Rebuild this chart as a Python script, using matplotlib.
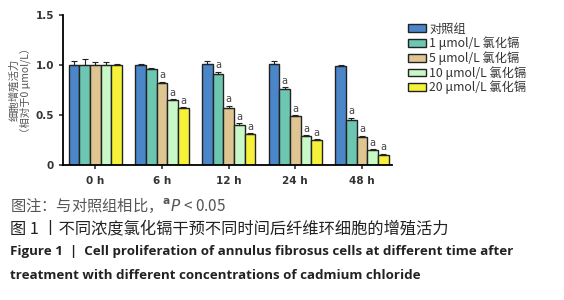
import matplotlib
matplotlib.use("Agg")
import matplotlib.pyplot as plt
import numpy as np

plt.rcParams["font.family"] = ["Noto Sans CJK SC", "DejaVu Sans"]

time_labels = ["0 h", "6 h", "12 h", "24 h", "48 h"]
group_names = ["对照组", "1 μmol/L 氯化镉", "5 μmol/L 氯化镉",
               "10 μmol/L 氯化镉", "20 μmol/L 氯化镉"]
colors = ["#4a86c8", "#6cc6b0", "#dfc592", "#c8f7c8", "#f6f23a"]

# rows: groups, columns: time points
values = [
    [1.00, 1.00, 1.01, 1.01, 0.99],
    [1.00, 0.96, 0.91, 0.76, 0.45],
    [1.00, 0.82, 0.57, 0.49, 0.28],
    [1.00, 0.65, 0.40, 0.29, 0.15],
    [1.00, 0.57, 0.31, 0.25, 0.10],
]
errors = [
    [0.04, 0.01, 0.03, 0.03, 0.01],
    [0.06, 0.01, 0.02, 0.02, 0.02],
    [0.03, 0.01, 0.02, 0.01, 0.01],
    [0.03, 0.01, 0.02, 0.01, 0.01],
    [0.01, 0.01, 0.01, 0.01, 0.01],
]
# significance marks (a: P < 0.05 vs control)
signif = [
    [0, 0, 0, 0, 0],
    [0, 0, 1, 1, 1],
    [0, 1, 1, 1, 1],
    [0, 1, 1, 1, 1],
    [0, 1, 1, 1, 1],
]

fig = plt.figure(figsize=(5.64, 3.0), dpi=100)
ax = fig.add_axes([0.112, 0.45, 0.583, 0.50])

x = np.arange(len(time_labels))
width = 0.16
for i, name in enumerate(group_names):
    pos = x + (i - 2) * width
    ax.bar(pos, values[i], width, color=colors[i], edgecolor="#222222",
           linewidth=1.0, label=name, zorder=2)
    ax.errorbar(pos, values[i], yerr=[np.zeros(len(x)), errors[i]], fmt="none",
                ecolor="#222222", elinewidth=0.8, capsize=2, capthick=0.8, zorder=3)
    for j, s in enumerate(signif[i]):
        if s:
            ax.text(pos[j], values[i][j] + errors[i][j] + 0.015, "a",
                    ha="center", va="bottom", fontsize=7, color="#444444",
                    family="DejaVu Sans")

ax.set_xlim(-0.48, 4.45)
ax.set_ylim(0, 1.5)
ax.set_yticks([0, 0.5, 1.0, 1.5])
ax.set_yticklabels(["0", "0.5", "1.0", "1.5"])
ax.set_xticks(x)
ax.set_xticklabels(time_labels)
for lab in ax.get_xticklabels() + ax.get_yticklabels():
    lab.set_fontsize(7.5)
    lab.set_fontweight("bold")
    lab.set_color("#333333")
    lab.set_family("DejaVu Sans")
ax.tick_params(axis="both", direction="out", length=3, width=1.2, colors="#333333")
ax.tick_params(axis="x", pad=5)
ax.spines["top"].set_visible(False)
ax.spines["right"].set_visible(False)
ax.spines["left"].set_linewidth(1.3)
ax.spines["bottom"].set_linewidth(1.3)

ax.set_ylabel("细胞增殖活力\n（相对于0 μmol/L）", fontsize=7.5, color="#555555",
              labelpad=3, linespacing=1.1)

ax.legend(loc="upper left", bbox_to_anchor=(1.03, 0.99), frameon=False,
          fontsize=8.8, handlelength=1.5, handleheight=0.6, handletextpad=0.25,
          labelspacing=0.08, borderaxespad=0.1, labelcolor="#333333")

fig.text(0.018, 0.315, "图注：与对照组相比，$^{\\mathbf{a}}$$\\it{P}$ < 0.05",
         fontsize=11, color="#555555", va="center")
fig.text(0.018, 0.238, "图 1 丨不同浓度氯化镉干预不同时间后纤维环细胞的增殖活力",
         fontsize=11.7, color="#222222", va="center")
fig.text(0.018, 0.160,
         "Figure 1  |  Cell proliferation of annulus fibrosus cells at different time after",
         fontsize=9.6, color="#222222", va="center", fontweight="bold",
         family="Open Sans")
fig.text(0.018, 0.083, "treatment with different concentrations of cadmium chloride",
         fontsize=9.6, color="#222222", va="center", fontweight="bold",
         family="Open Sans")

fig.savefig("out.png", dpi=100)
